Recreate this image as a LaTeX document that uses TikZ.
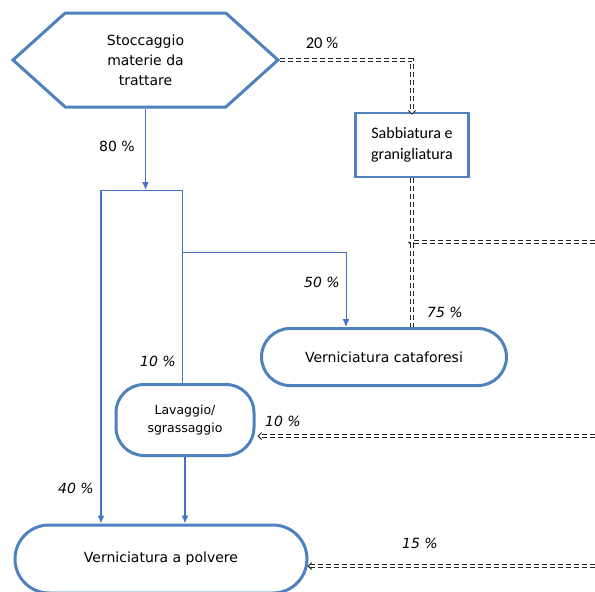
\documentclass[tikz,border=0pt]{standalone}
\usepackage{fontspec}
\setmainfont{DejaVu Sans}
\newfontfamily\calibrifont{Carlito}
\usepackage{tikz}
\usetikzlibrary{shapes.misc, shapes.symbols, arrows.meta, positioning, decorations.markings}

\definecolor{shapeblue}{HTML}{4F81BD}
\definecolor{lineblue}{HTML}{4472C4}

\begin{document}
\begin{tikzpicture}[x=1pt, y=-1pt,
  blk/.style={draw=shapeblue, line width=3pt, fill=white, align=center,
              font=\fontsize{14}{20}\selectfont, inner sep=0pt},
  hexa/.style={blk, shape=signal, signal to=east and west, signal pointer angle=84,
               minimum width=265pt, minimum height=94pt},
  box/.style={blk, rectangle, line width=2.6pt, minimum width=113pt, minimum height=64pt,
              font=\calibrifont\fontsize{16}{21}\selectfont},
  stad/.style={blk, rounded rectangle},
  roundbox/.style={blk, rectangle, rounded corners=28pt},
  arr/.style={-{Latex[length=8pt,width=7pt]}, draw=lineblue, line width=1.4pt},
  lnk/.style={draw=lineblue, line width=1pt},
  dbl/.style={draw=black!85, double=white, double distance=2pt, line width=0.9pt,
              dash pattern=on 5pt off 3pt},
  dblarr/.style={dbl, shorten >=2pt,
    decoration={markings, mark=at position 1 with
      {\arrow[black!85, line width=1pt]{Straight Barb[length=3.5pt,width=7pt]}}},
    postaction=decorate},
  pct/.style={font=\fontsize{14}{16}\selectfont\itshape, inner sep=1pt}]

  \useasboundingbox (0,0) rectangle (595,592);

  % process blocks
  \node[hexa] (stock) at (145.5,60) {Stoccaggio\\materie da\\trattare};
  \node[box] (sabb) at (412,145) {Sabbiatura e\\granigliatura};
  \node[stad, minimum width=245pt, minimum height=57pt] (cata) at (384,357) {Verniciatura cataforesi};
  \node[roundbox, minimum width=138pt, minimum height=71pt, font=\fontsize{12.5}{18}\selectfont] (lava) at (185,420) {Lavaggio/\\sgrassaggio};
  \node[stad, minimum width=292pt, minimum height=68pt] (polv) at (161,559) {Verniciatura a polvere};

  % splitting frame below the storage
  \coordinate (tl) at (101,190);
  \coordinate (tr) at (182,190);
  \coordinate (br) at (182,252);

  \draw[arr] (stock.south) -- (stock.south |- tl);
  \draw[lnk] (tl) -- (tr) -- (tr |- lava.north);
  \draw[arr] (tl) -- (tl |- polv.north);
  \draw[arr, line width=1pt] (br) -| ([xshift=-38pt]cata.north);
  \draw[arr] (lava.south) -- (lava.south |- polv.north);

  % recovered flows (dashed)
  \coordinate (jn) at (412,242);
  \coordinate (re1) at (595,242);
  \coordinate (re2) at (595,436);
  \coordinate (re3) at (595,566);

  \draw[dblarr] (stock.east) -| ([yshift=-3pt]sabb.north);
  \draw[dblarr] (sabb.south) -- ([yshift=-4pt]jn);
  \draw[dbl] (re1) -- (jn) -- (jn |- cata.north);
  \draw[dblarr] (re2) -- ([xshift=2pt]re2 -| lava.east);
  \draw[dblarr] (re3) -- ([xshift=-1pt]re3 -| polv.east);

  % percentages
  \node[font=\fontsize{14}{16}\selectfont] (p80) at (117,146) {80 \%};
  \node[font=\calibrifont\fontsize{16.5}{18}\selectfont] (p20) at (322,43) {20 \%};
  \node[pct] (p50) at (322,282) {50 \%};
  \node[pct] (p75) at (445,312) {75 \%};
  \node[pct] (p10a) at (158,361) {10 \%};
  \node[pct] (p10b) at (283,421) {10 \%};
  \node[pct] (p40) at (76,488) {40 \%};
  \node[pct] (p15) at (420,543) {15 \%};
\end{tikzpicture}
\end{document}
